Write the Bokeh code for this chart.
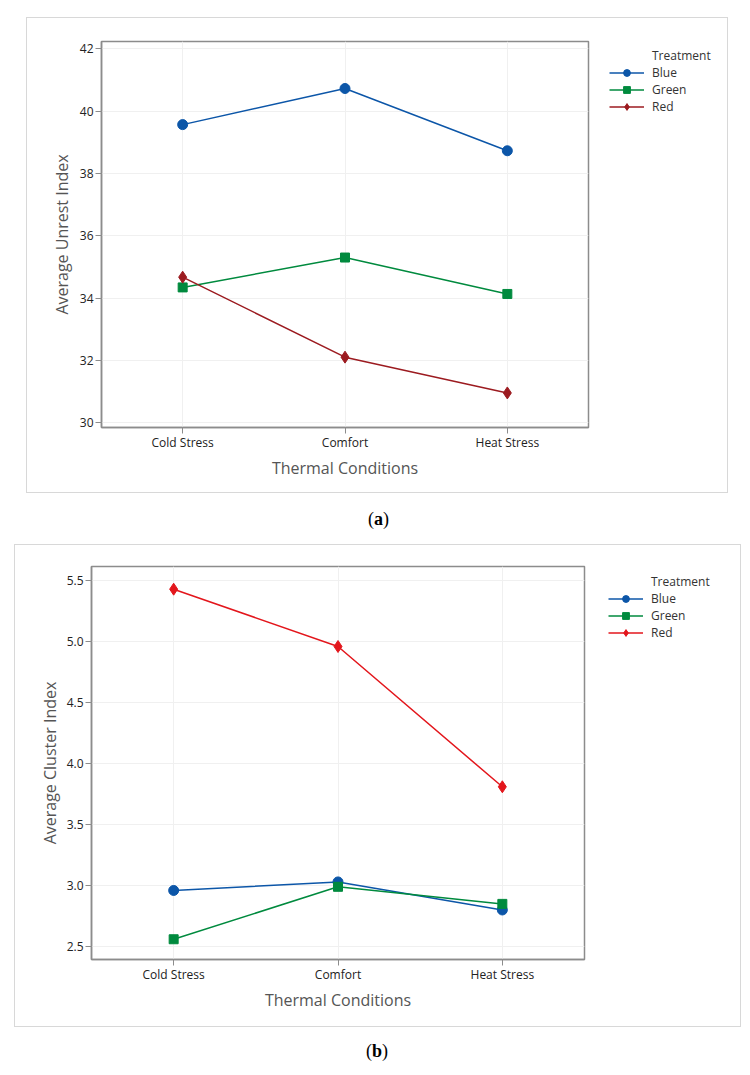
from bokeh.plotting import figure
from bokeh.models import (Legend, LegendItem, FactorRange, Range1d, Div, FixedTicker,
                          NumeralTickFormatter)
from bokeh.layouts import row
from bokeh.embed import file_html
from bokeh.resources import INLINE

# ---------------- data ----------------
conditions = ["Cold Stress", "Comfort", "Heat Stress"]
treatments = ["Blue", "Green", "Red"]

unrest_blue = [39.57, 40.73, 38.73]
unrest_green = [34.34, 35.30, 34.13]
unrest_red = [34.67, 32.10, 30.95]

cluster_blue = [2.96, 3.03, 2.80]
cluster_green = [2.56, 2.99, 2.85]
cluster_red = [5.43, 4.96, 3.81]

unrest_ticks = [30, 32, 34, 36, 38, 40, 42]
cluster_ticks = [2.5, 3.0, 3.5, 4.0, 4.5, 5.0, 5.5]

FONT = "Open Sans"
BLUE = "#0c56a8"
GREEN = "#008a3e"
RED_DARK = "#9c1b20"
RED_BRIGHT = "#e3161c"
MARKERS = ["circle", "square", "diamond"]
SIZES = [10, 9, 12]


def make_panel(series, colors, ylabel, yrange, ticks, fmt, geom, leg_geom, label_offsets):
    mw, lw, h, bl, bt, bb = geom
    lbl, lmargin = leg_geom
    y_std, x_std = label_offsets
    p = figure(width=mw, height=h, x_range=FactorRange(factors=conditions),
               y_range=Range1d(*yrange), output_backend="svg", toolbar_location=None,
               min_border_left=bl, min_border_right=3, min_border_top=bt, min_border_bottom=bb)
    p.background_fill_color = "white"
    p.border_fill_color = "white"
    p.outline_line_color = "#8c8c8c"
    p.outline_line_width = 1.5
    p.xgrid.grid_line_color = "#f0f0f0"
    p.ygrid.grid_line_color = "#f0f0f0"
    p.yaxis.ticker = FixedTicker(ticks=ticks)
    if fmt:
        p.yaxis.formatter = NumeralTickFormatter(format=fmt)
    for ax in (p.xaxis, p.yaxis):
        ax.axis_line_color = "#8c8c8c"
        ax.axis_line_width = 1.5
        ax.major_tick_line_color = "#8c8c8c"
        ax.major_tick_in = 0
        ax.major_tick_out = 6
        ax.minor_tick_line_color = None
        ax.major_label_text_font = FONT
        ax.major_label_text_font_size = "12px"
        ax.major_label_text_color = "#222222"
        ax.axis_label_text_font = FONT
        ax.axis_label_text_font_style = "normal"
        ax.axis_label_text_color = "#555555"
    p.yaxis.major_label_standoff = 2
    p.yaxis.axis_label_standoff = y_std
    p.yaxis.axis_label_text_font_size = "16px"
    p.xaxis.major_label_standoff = 0
    p.xaxis.axis_label_standoff = x_std
    p.xaxis.axis_label_text_font_size = "16px"
    p.yaxis.axis_label = ylabel
    p.xaxis.axis_label = "Thermal Conditions"

    for vals, col, mk, sz in zip(series, colors, MARKERS, SIZES):
        p.line(conditions, vals, line_color=col, line_width=1.5)
        p.scatter(conditions, vals, marker=mk, size=sz, fill_color=col, line_color=col)

    # legend panel to the right of the plot (sample glyphs sit outside its visible range)
    lf = figure(width=lw, height=h, x_range=Range1d(0, 1), y_range=Range1d(0, 1),
                output_backend="svg", toolbar_location=None,
                x_axis_location=None, y_axis_location=None,
                min_border_left=lbl, min_border_right=0, min_border_top=bt, min_border_bottom=bb)
    lf.outline_line_color = None
    lf.background_fill_color = "white"
    lf.border_fill_color = "white"
    lf.grid.visible = False
    off = [-10]
    hdr = lf.line(off, off, line_alpha=0)
    items = [LegendItem(label="Treatment", renderers=[hdr])]
    for name, col, mk, sz in zip(treatments, colors, MARKERS, SIZES):
        ln = lf.line(off, off, line_color=col, line_width=1.5)
        sc = lf.scatter(off, off, marker=mk, size=sz, fill_color=col, line_color=col)
        items.append(LegendItem(label=name, renderers=[ln, sc]))
    leg = Legend(items=items, location="top_left", padding=0, margin=lmargin, spacing=0,
                 glyph_width=35, glyph_height=17, label_height=17, label_standoff=8,
                 border_line_color=None, background_fill_alpha=0,
                 label_text_font=FONT, label_text_font_size="12px", label_text_color="#333333")
    lf.add_layout(leg, "center")

    r = row(p, lf, spacing=0)
    r.styles = {"outline": "1px solid #d8d8d8"}
    return r


pa = make_panel([unrest_blue, unrest_green, unrest_red], [BLUE, GREEN, RED_DARK],
                "Average Unrest Index", (29.84, 42.24), unrest_ticks, None,
                (564, 136, 474, 74, 23, 65), (12, 6), (4, 3))
pa.margin = (18, 0, 0, 27)

pb = make_panel([cluster_blue, cluster_green, cluster_red], [BLUE, GREEN, RED_BRIGHT],
                "Average Cluster Index", (2.394, 5.616), cluster_ticks, "0.0",
                (572, 153, 481, 76, 21, 67), (14, 7), (3, 3))
pb.margin = (15, 0, 0, 15)

cap_style = "font-family:'Liberation Serif'; font-size:18px; color:#000; line-height:21px;"
cap_a = Div(text='<span style="%s">(<b>a</b>)</span>' % cap_style, width=30, height=21,
            margin=(17, 0, 0, 368))
cap_b = Div(text='<span style="%s">(<b>b</b>)</span>' % cap_style, width=30, height=21,
            margin=(15, 0, 0, 366))

open("out.html", "w").write(file_html([pa, cap_a, pb, cap_b], INLINE))
